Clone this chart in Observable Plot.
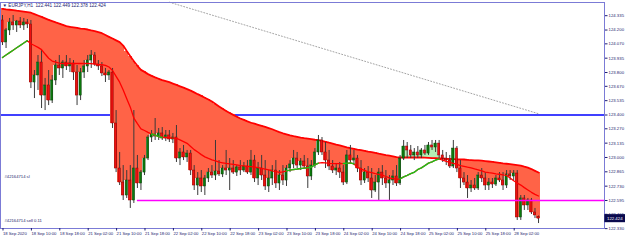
<!DOCTYPE html>
<html><head><meta charset="utf-8">
<script src="https://cdn.jsdelivr.net/npm/d3@7"></script>
<script src="https://cdn.jsdelivr.net/npm/@observablehq/plot@0.6"></script>
<style>
html,body{margin:0;padding:0;background:#fff;}
#chart svg{display:block;}
</style></head><body><div id="chart"></div>
<script>
const titleText = "\u25BC EURJPY,H1  122.441 122.449 122.378 122.424";
const dateTicks = [0,8,16,24,32,40,48,56,64,72,80,88,96,104,112,120,128,136,144];
const dateLabels = ["18 Sep 2020","18 Sep 10:00","18 Sep 18:00","21 Sep 02:00","21 Sep 10:00","21 Sep 18:00","22 Sep 02:00","22 Sep 10:00","22 Sep 18:00","23 Sep 02:00","23 Sep 10:00","23 Sep 18:00","24 Sep 02:00","24 Sep 10:00","24 Sep 18:00","25 Sep 02:00","25 Sep 10:00","25 Sep 18:00","28 Sep 02:00"];
const priceTicks = [124.335,124.200,124.070,123.935,123.800,123.670,123.535,123.400,123.270,123.135,123.000,122.865,122.730,122.595,122.465,122.330];

const open = [124.290,124.083,124.196,124.271,124.243,124.280,124.243,124.271,124.252,123.706,
123.772,123.894,123.583,123.678,123.536,123.725,123.866,123.838,123.894,123.857,
123.885,123.800,123.583,123.800,123.857,123.913,123.960,123.875,123.857,123.791,
123.772,123.800,123.320,122.896,122.764,122.642,122.783,122.595,122.896,122.755,
122.858,122.990,123.188,123.216,123.197,123.226,123.179,123.207,123.169,123.188,
122.990,123.047,123.000,123.037,122.877,122.736,122.802,122.727,122.802,122.858,
122.830,122.868,122.840,122.896,122.877,122.896,122.858,122.906,122.877,122.915,
122.858,122.971,122.802,122.896,122.830,122.727,122.802,122.877,122.755,122.830,
122.783,122.896,122.934,122.990,122.924,122.962,122.915,122.821,122.924,123.047,
123.160,123.047,122.971,122.915,122.877,122.896,122.858,122.764,123.019,122.971,
122.990,122.896,122.783,122.858,122.802,122.689,122.764,122.858,122.802,122.755,
122.783,122.821,122.755,122.990,123.103,123.066,123.019,123.047,123.019,123.066,
123.037,123.113,123.094,123.131,123.019,122.990,122.971,122.915,123.084,122.896,
122.802,122.764,122.708,122.736,122.708,122.830,122.802,122.736,122.764,122.745,
122.802,122.783,122.736,122.840,122.821,122.849,122.435,122.614,122.548,122.595,
122.482,122.441];
const high = [124.337,124.214,124.309,124.337,124.290,124.318,124.309,124.299,124.290,123.819,
123.960,124.007,123.744,123.819,123.772,123.913,123.960,123.913,123.960,123.932,
123.913,123.866,123.838,123.913,123.960,124.007,123.988,123.913,123.894,123.838,
123.819,123.838,123.442,123.047,122.924,122.877,122.924,123.442,123.019,122.877,
123.019,123.207,123.254,123.367,123.273,123.282,123.254,123.254,123.226,123.301,
123.084,123.113,123.066,123.066,122.924,122.858,122.877,122.830,122.896,122.924,
123.160,122.971,122.924,123.066,122.990,122.971,122.924,122.971,122.953,122.971,
123.066,123.019,122.953,123.019,122.971,122.877,122.924,122.971,122.877,122.924,
122.924,122.971,123.066,123.047,122.990,123.019,122.990,122.971,123.084,123.207,
123.188,123.141,123.066,122.971,122.943,122.953,122.924,123.066,123.113,123.066,
123.019,122.971,122.896,122.915,122.896,122.830,122.896,122.924,122.877,122.830,
122.877,122.924,123.019,123.160,123.141,123.113,123.084,123.103,123.084,123.113,
123.141,123.160,123.160,123.160,123.066,123.047,123.019,123.160,123.103,122.971,
122.858,122.830,122.783,122.802,122.858,122.896,122.858,122.802,122.802,122.830,
122.858,122.858,122.877,122.877,122.877,122.877,122.642,122.642,122.614,122.614,
122.520,122.449];
const low = [124.054,124.026,124.148,124.196,124.177,124.214,124.196,124.214,123.649,123.555,
123.631,123.461,123.442,123.489,123.508,123.678,123.772,123.744,123.819,123.800,
123.725,123.489,123.536,123.744,123.800,123.838,123.857,123.819,123.762,123.706,
123.725,123.273,122.858,122.736,122.595,122.614,122.520,122.567,122.708,122.689,
122.830,122.971,123.141,123.160,123.160,123.160,123.150,123.141,123.131,122.953,
122.924,122.971,122.953,122.830,122.689,122.642,122.670,122.642,122.764,122.802,
122.783,122.821,122.811,122.830,122.689,122.840,122.821,122.830,122.858,122.840,
122.830,122.764,122.736,122.783,122.689,122.670,122.736,122.708,122.689,122.736,
122.727,122.858,122.896,122.896,122.877,122.896,122.708,122.783,122.896,123.019,
123.019,122.896,122.877,122.849,122.830,122.802,122.736,122.745,122.943,122.924,
122.858,122.736,122.755,122.764,122.614,122.670,122.595,122.736,122.708,122.595,
122.736,122.727,122.736,122.971,122.990,122.990,122.971,122.990,122.990,123.019,
123.019,123.066,123.047,122.990,122.953,122.924,122.896,122.896,122.858,122.708,
122.736,122.614,122.670,122.689,122.689,122.764,122.689,122.689,122.708,122.727,
122.764,122.689,122.708,122.783,122.783,122.407,122.407,122.501,122.501,122.463,
122.425,122.378];
const close = [124.083,124.196,124.271,124.243,124.280,124.243,124.271,124.252,123.706,123.772,
123.894,123.583,123.678,123.536,123.725,123.866,123.838,123.894,123.857,123.885,
123.800,123.583,123.800,123.857,123.913,123.960,123.875,123.857,123.791,123.772,
123.800,123.320,122.896,122.764,122.642,122.783,122.595,122.896,122.755,122.858,
122.990,123.188,123.216,123.197,123.226,123.179,123.207,123.169,123.188,122.990,
123.047,123.000,123.037,122.877,122.736,122.802,122.727,122.802,122.858,122.830,
122.868,122.840,122.896,122.877,122.896,122.858,122.906,122.877,122.915,122.858,
122.971,122.802,122.896,122.830,122.727,122.802,122.877,122.755,122.830,122.783,
122.896,122.934,122.990,122.924,122.962,122.915,122.821,122.924,123.047,123.160,
123.047,122.971,122.915,122.877,122.896,122.858,122.764,123.019,122.971,122.990,
122.896,122.783,122.858,122.802,122.689,122.764,122.858,122.802,122.755,122.783,
122.821,122.755,122.990,123.103,123.066,123.019,123.047,123.019,123.066,123.037,
123.113,123.094,123.131,123.019,122.990,122.971,122.915,123.084,122.896,122.802,
122.764,122.708,122.736,122.708,122.830,122.802,122.736,122.764,122.745,122.802,
122.783,122.736,122.840,122.821,122.849,122.435,122.614,122.548,122.595,122.482,
122.454,122.424];
const slowLine = [124.400,124.395,124.391,124.387,124.382,124.378,124.374,124.369,124.363,124.350,
124.337,124.324,124.310,124.296,124.284,124.272,124.261,124.248,124.237,124.229,
124.225,124.220,124.214,124.210,124.205,124.196,124.189,124.181,124.170,124.153,
124.136,124.120,124.103,124.086,124.054,124.002,123.953,123.907,123.863,123.825,
123.806,123.785,123.768,123.754,123.741,123.729,123.719,123.709,123.696,123.683,
123.670,123.657,123.644,123.630,123.613,123.596,123.580,123.563,123.546,123.527,
123.503,123.480,123.458,123.438,123.419,123.401,123.384,123.367,123.354,123.340,
123.327,123.318,123.308,123.297,123.288,123.277,123.266,123.252,123.239,123.228,
123.218,123.208,123.201,123.195,123.188,123.182,123.178,123.173,123.167,123.163,
123.156,123.148,123.139,123.131,123.121,123.113,123.104,123.095,123.088,123.082,
123.075,123.069,123.063,123.056,123.051,123.043,123.036,123.030,123.023,123.017,
123.010,123.003,123.000,123.000,123.000,123.000,123.000,123.000,123.000,122.998,
122.996,122.994,122.993,122.991,122.989,122.987,122.986,122.985,122.983,122.982,
122.981,122.977,122.975,122.973,122.972,122.970,122.966,122.962,122.958,122.954,
122.950,122.945,122.941,122.937,122.933,122.928,122.923,122.913,122.904,122.891,
122.874,122.858];
const fastLine = [123.941,123.965,123.987,124.010,124.033,124.055,124.078,124.100,124.071,124.054,
124.037,124.016,123.974,123.934,123.908,123.898,123.889,123.885,123.885,123.885,
123.885,123.885,123.885,123.885,123.885,123.884,123.880,123.876,123.873,123.868,
123.852,123.819,123.763,123.709,123.636,123.553,123.474,123.371,123.318,123.270,
123.254,123.237,123.221,123.210,123.196,123.188,123.188,123.186,123.183,123.180,
123.166,123.150,123.133,123.104,123.074,123.051,123.027,123.006,122.991,122.977,
122.967,122.956,122.950,122.944,122.939,122.935,122.930,122.924,122.921,122.917,
122.913,122.909,122.905,122.897,122.890,122.883,122.873,122.867,122.860,122.865,
122.874,122.881,122.887,122.891,122.896,122.900,122.903,122.910,122.931,122.947,
122.951,122.950,122.945,122.943,122.943,122.943,122.943,122.945,122.949,122.940,
122.906,122.891,122.878,122.865,122.857,122.849,122.842,122.833,122.821,122.809,
122.800,122.793,122.799,122.817,122.832,122.848,122.861,122.887,122.902,122.924,
122.947,122.959,122.976,122.987,122.974,122.964,122.954,122.944,122.935,122.924,
122.917,122.909,122.902,122.892,122.883,122.873,122.863,122.857,122.852,122.846,
122.842,122.837,122.831,122.806,122.781,122.759,122.740,122.716,122.694,122.672,
122.653,122.637];
const fastGreenRanges = [[0,7],[42,45],[80,89],[96,99],[112,123]];
const blueLevel = 123.400;
const magentaLevel = 122.595;
const magentaStartBar = 38;
const trendBars = [47, 151];
const trendPrices = [124.462, 123.412];
const orderLabels = ["#42164714 sl", "#42164714 sell 0.11"];
const orderLabelPrices = [122.821, 122.407];
const lastPrice = 122.424;

const N = close.length;
const bars = d3.range(N);
const xDomain = [-0.563, 169.58];
const yDomain = [122.3313, 124.4593];
const navy = "#1b1b6e";
const font = "'Liberation Sans', Arial, sans-serif";

const marks = [
  Plot.ruleY([blueLevel], {stroke: "#0000ff", strokeWidth: 1.6}),
  Plot.rect(bars, {
    x1: i => i - 0.5, x2: i => i + 0.5,
    y1: i => slowLine[i], y2: i => close[i],
    fill: i => close[i] < slowLine[i] ? "#ff6347" : "#b4f0b4",
    shapeRendering: "crispEdges"
  }),
  Plot.line(bars, {x: i => i, y: i => slowLine[i], stroke: "#ff0000", strokeWidth: 1.8}),
  Plot.ruleX(bars, {x: i => i, y1: i => low[i], y2: i => high[i], stroke: "#3a3a3a", strokeWidth: 1}),
  Plot.rect(bars, {
    x1: i => i - 0.31, x2: i => i + 0.31,
    y1: i => open[i], y2: i => close[i],
    fill: i => close[i] >= open[i] ? "#0c7a0c" : "#ee1010",
    stroke: i => close[i] >= open[i] ? "#064006" : "#8a0000",
    strokeWidth: 0.5
  }),
  Plot.line(bars, {x: i => i, y: i => fastLine[i], stroke: "#ff0000", strokeWidth: 1.3}),
  ...fastGreenRanges.map(([a, b]) => Plot.line(d3.range(a, b + 1), {x: i => i, y: i => fastLine[i], stroke: "#19c419", strokeWidth: 1.4})),
  Plot.line([0, 1], {x: k => trendBars[k], y: k => trendPrices[k], stroke: "#8c8c8c", strokeWidth: 0.8, strokeDasharray: "1,2"}),
  Plot.ruleY([magentaLevel], {x1: magentaStartBar, x2: xDomain[1], stroke: "#ff00ff", strokeWidth: 1.6}),
  Plot.frame({stroke: "#7b7bd6", strokeWidth: 1}),
  Plot.axisY(priceTicks, {anchor: "right", tickSize: 2.5, tickPadding: 1.5, fontSize: 4.3, tickFormat: d => d.toFixed(3), color: navy}),
  Plot.axisX(dateTicks, {anchor: "bottom", tickSize: 2.5, tickPadding: 1.2, fontSize: 4.2, textAnchor: "start", dx: 0.5, tickFormat: d => dateLabels[dateTicks.indexOf(d)], color: navy}),
  Plot.text([titleText], {frameAnchor: "top-left", dx: 2, dy: 1, text: d => d, fontSize: 4.6, textAnchor: "start", lineAnchor: "top", fill: navy}),
  Plot.text([0, 1], {x: xDomain[0], y: k => orderLabelPrices[k], text: k => orderLabels[k], dx: 4, fontSize: 4.2, textAnchor: "start", fill: navy}),
  Plot.rect([lastPrice], {x1: xDomain[1] + 0.1, x2: xDomain[1] + 6, y1: d => d - 0.038, y2: d => d + 0.038, fill: "#0a0a4e"}),
  Plot.text([lastPrice], {x: xDomain[1], y: d => d, text: d => d.toFixed(3), dx: 2.5, fontSize: 4.3, textAnchor: "start", fill: "#ffffff"})
];

const chart = Plot.plot({
  width: 625, height: 240,
  marginLeft: 0, marginRight: 21, marginTop: 2, marginBottom: 12,
  x: {domain: xDomain, axis: null},
  y: {domain: yDomain, axis: null},
  style: {background: "#ffffff", fontFamily: font, overflow: "visible"},
  marks
});
document.getElementById("chart").appendChild(chart);
</script>
</body></html>
